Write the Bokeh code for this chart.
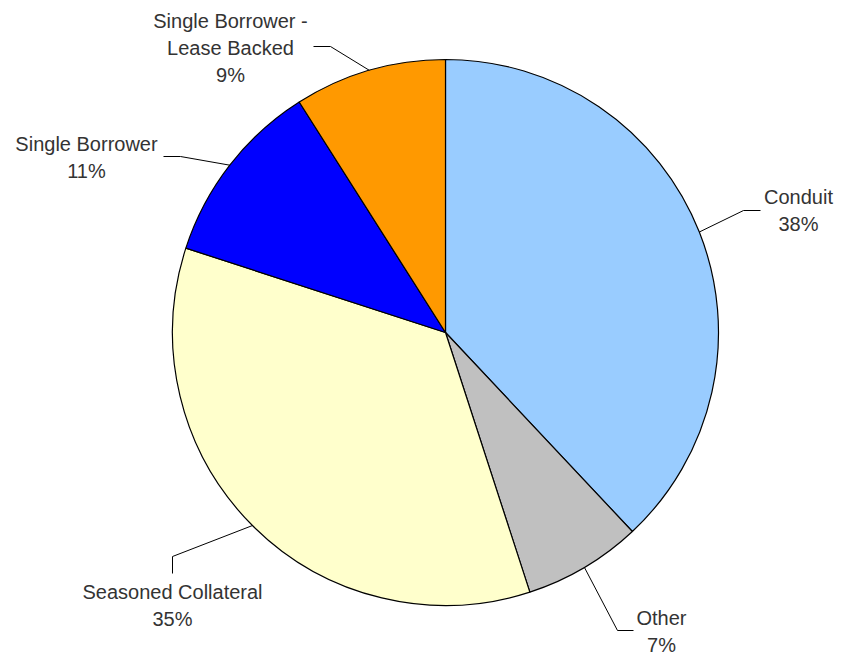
import math
from bokeh.plotting import figure
from bokeh.models import Range1d, ColumnDataSource
from bokeh.core.properties import value
from bokeh.embed import file_html
from bokeh.resources import INLINE

# ---- data ----
categories = ["Conduit", "Other", "Seasoned Collateral", "Single Borrower", "Single Borrower - Lease Backed"]
label_lines = [["Conduit"], ["Other"], ["Seasoned Collateral"], ["Single Borrower"], ["Single Borrower -", "Lease Backed"]]
shares = [38, 7, 35, 11, 9]
colors = ["#99CCFF", "#C0C0C0", "#FFFFCC", "#0000FF", "#FF9900"]

# ---- layout (picture pixel coordinates) ----
W, H = 842, 654
def X(px): return px
def Y(py): return H - py

cx, cy, R = X(445), Y(332), 273
# elbow and end of leader lines, label centre (first line)
elbows = [(743, 210), (617, 630), (172, 556), (180, 156), (330, 46)]
ends = [(760, 210), (633, 630), (172, 573), (163, 156), (313, 46)]
label_pos = [(798, 196), (661, 617), (172, 591), (86, 143), (230, 20)]
line_gap = 27

p = figure(width=W, height=H, x_range=Range1d(0, W), y_range=Range1d(0, H),
           output_backend="svg", toolbar_location=None, min_border=0)
p.axis.visible = False
p.grid.visible = False
p.outline_line_color = None
p.background_fill_color = "white"

total = sum(shares)
starts, ends_a, mids = [], [], []
cum = 0
for s in shares:
    a0 = cum / total
    a1 = (cum + s) / total
    starts.append(math.radians(90 - a1 * 360))
    ends_a.append(math.radians(90 - a0 * 360))
    mids.append(math.radians(90 - (a0 + a1) / 2 * 360))
    cum += s

src = ColumnDataSource(dict(start=starts, end=ends_a, color=colors))
p.wedge(x=cx, y=cy, radius=R, start_angle="start", end_angle="end",
        fill_color="color", line_color="black", line_width=1.2, source=src)

for i, m in enumerate(mids):
    ex, ey = cx + R * math.cos(m), cy + R * math.sin(m)
    xs = [ex, X(elbows[i][0]), X(ends[i][0])]
    ys = [ey, Y(elbows[i][1]), Y(ends[i][1])]
    p.line(xs, ys, line_color="black", line_width=1)

tx, ty, tt = [], [], []
for i, lines in enumerate(label_lines):
    lx, ly = label_pos[i]
    allines = lines + [f"{shares[i]}%"]
    for k, t in enumerate(allines):
        tx.append(X(lx)); ty.append(Y(ly + k * line_gap)); tt.append(t)

p.text(x=tx, y=ty, text=tt, text_font=value("Liberation Sans"), text_font_size="20px",
       text_color="#333333", text_align="center", text_baseline="middle")

open("out.html", "w").write(file_html(p, INLINE))
